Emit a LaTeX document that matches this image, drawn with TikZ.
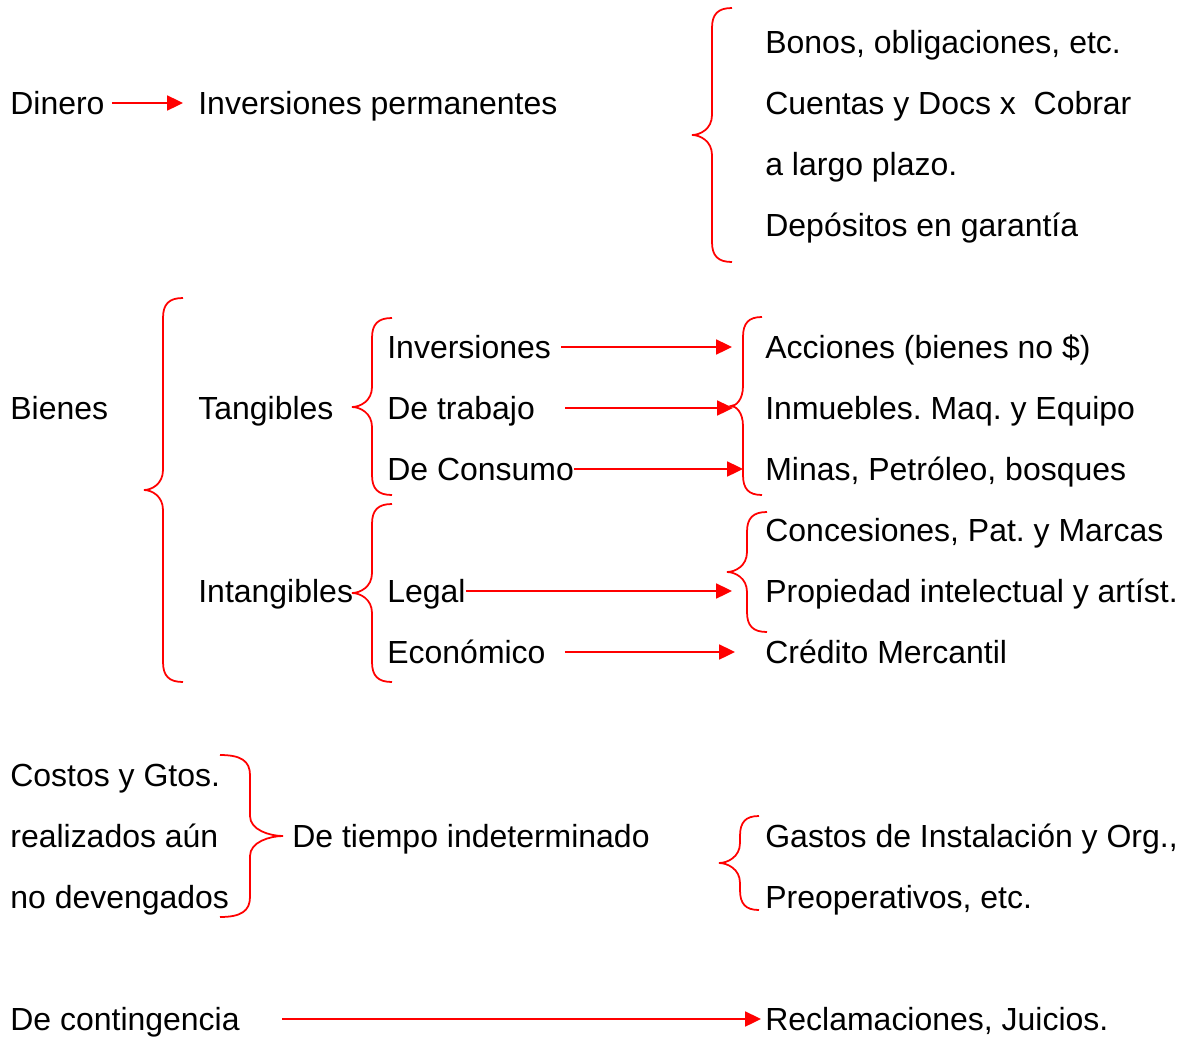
\documentclass[tikz,border=0pt]{standalone}
\usepackage{fontspec}
\setmainfont{Liberation Sans}
\frenchspacing
\usetikzlibrary{arrows.meta,calc}

% curly brace: end x, stem x, tip x, top y, tip y, bottom y
\newcommand{\wbrace}[6]{%
	\draw[brc] (#1,#4) .. controls ({#2+0.3*(#1-#2)},#4) and (#2,{#4+6}) .. (#2,{#4+20})
		-- (#2,{#5-20}) .. controls (#2,{#5-6}) and ({#3+0.4*(#2-#3)},#5) .. (#3,#5)
		.. controls ({#3+0.4*(#2-#3)},#5) and (#2,{#5+6}) .. (#2,{#5+20})
		-- (#2,{#6-20}) .. controls (#2,{#6-6}) and ({#2+0.3*(#1-#2)},#6) .. (#1,#6);}

\begin{document}
\begin{tikzpicture}[
			x=0.02cm, y=-0.02cm,
			txt/.style={anchor=west, inner sep=0pt, text height=13pt, text depth=0pt,
				font={\fontsize{18.2}{22}\selectfont}},
			arr/.style={red, line width=1.1pt, -{Triangle[length=9pt,width=8.5pt]}},
			brc/.style={red, line width=1pt}
	]
	\useasboundingbox (0,0) rectangle (1184,1038);

	% >> first block
	\node[txt] (bon) at (765,42) {Bonos, obligaciones, etc.};
	\node[txt] (din) at (10,103) {Dinero};
	\node[txt] (ip) at (198,103) {Inversiones permanentes};
	\node[txt] (cue) at (765,103) {Cuentas y Docs x~ Cobrar};
	\node[txt] (lar) at (765,164) {a largo plazo.};
	\node[txt] (dep) at (765,225) {Depósitos en garantía};

	% >> bienes
	\node[txt] (inv) at (387,347) {Inversiones};
	\node[txt] (acc) at (765,347) {Acciones (bienes no \$)};
	\node[txt] (bie) at (10,408) {Bienes};
	\node[txt] (tan) at (198,408) {Tangibles};
	\node[txt] (tra) at (387,408) {De trabajo};
	\node[txt] (inm) at (765,408) {Inmuebles. Maq. y Equipo};
	\node[txt] (con) at (387,469) {De Consumo};
	\node[txt] (min) at (765,469) {Minas, Petróleo, bosques};
	\node[txt] (conc) at (765,530) {Concesiones, Pat. y Marcas};
	\node[txt] (int) at (198,591) {Intangibles};
	\node[txt] (leg) at (387,591) {Legal};
	\node[txt] (pro) at (765,591) {Propiedad intelectual y artíst.};
	\node[txt] (eco) at (387,652) {Económico};
	\node[txt] (cre) at (765,652) {Crédito Mercantil};

	% >> costos
	\node[txt] (cos) at (10,775) {Costos y Gtos.};
	\node[txt] (rea) at (10,836) {realizados aún};
	\node[txt] (tie) at (292,836) {De tiempo indeterminado};
	\node[txt] (gas) at (765,836) {Gastos de Instalación y Org.,};
	\node[txt] (nod) at (10,897) {no devengados};
	\node[txt] (pre) at (765,897) {Preoperativos, etc.};

	% >> contingencia
	\node[txt] (cont) at (10,1019) {De contingencia};
	\node[txt] (rec) at (765,1019) {Reclamaciones, Juicios.};

	% arrows
	\draw[arr] ($(din.east)+(7,0)$) -- ($(ip.west)+(-15,0)$);
	\draw[arr] ($(inv.east)+(10,0)$) -- ($(acc.west)+(-33,0)$);
	\draw[arr] ($(tra.east)+(30,0)$) -- ($(inm.west)+(-32,0)$);
	\draw[arr] (con.east) -- ($(min.west)+(-22,0)$);
	\draw[arr] (leg.east) -- ($(pro.west)+(-33,0)$);
	\draw[arr] ($(eco.east)+(19,0)$) -- ($(cre.west)+(-30,0)$);
	\draw[arr] ($(cont.east)+(42,0)$) -- ($(rec.west)+(-4,0)$);

	% braces
	\wbrace{732}{712}{692}{8}{135}{262}
	\wbrace{183}{163}{144}{298}{490}{682}
	\wbrace{392}{372}{352}{318}{407}{495}
	\wbrace{392}{372}{352}{504}{593}{682}
	\wbrace{762}{743}{731}{317}{406}{495}
	\wbrace{767}{747}{727}{512}{572}{632}
	\wbrace{220}{250}{283}{755}{836}{917}
	\wbrace{759}{740}{719}{816}{863}{910}
\end{tikzpicture}
\end{document}
